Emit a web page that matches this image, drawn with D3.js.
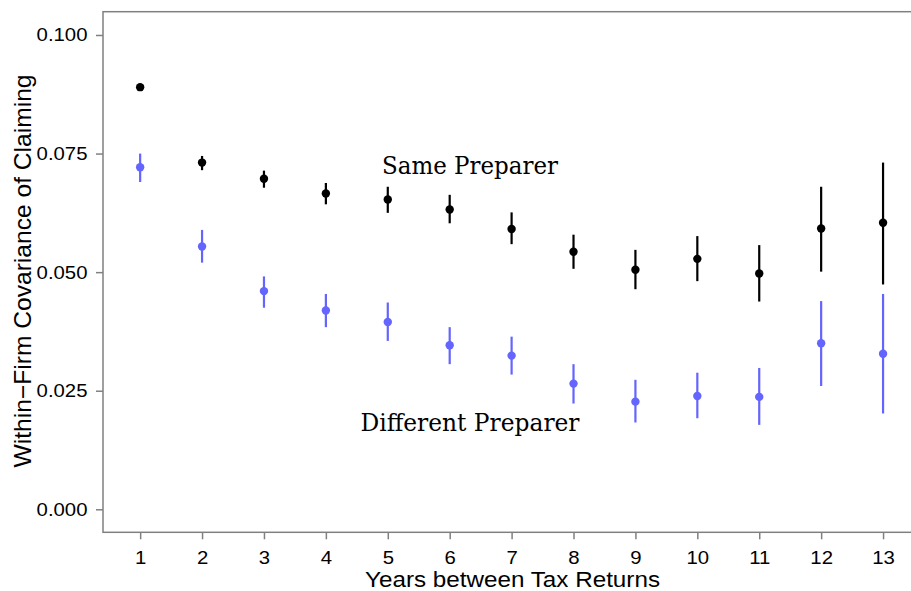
<!DOCTYPE html>
<html>
<head>
<meta charset="utf-8">
<script src="https://cdn.jsdelivr.net/npm/d3@7"></script>
<style>
  html, body { margin: 0; padding: 0; background: #fff; }
  svg { display: block; }
</style>
</head>
<body>
<svg id="chart" width="911" height="591"></svg>
<script>
// Years between the two tax returns
const years = [1, 2, 3, 4, 5, 6, 7, 8, 9, 10, 11, 12, 13];

// Same preparer: estimate and confidence interval
const sameEst = [0.0890, 0.0731, 0.0697, 0.0666, 0.0653, 0.0632, 0.0591, 0.0543, 0.0505, 0.0528, 0.0497, 0.0592, 0.0604];
const sameLo  = [0.0884, 0.0715, 0.0678, 0.0643, 0.0625, 0.0603, 0.0559, 0.0507, 0.0464, 0.0481, 0.0438, 0.0501, 0.0474];
const sameHi  = [0.0896, 0.0745, 0.0714, 0.0688, 0.0680, 0.0663, 0.0626, 0.0579, 0.0547, 0.0576, 0.0557, 0.0680, 0.0731];

// Different preparer: estimate and confidence interval
const diffEst = [0.0721, 0.0554, 0.0460, 0.0419, 0.0395, 0.0346, 0.0324, 0.0265, 0.0227, 0.0239, 0.0237, 0.0350, 0.0328];
const diffLo  = [0.0690, 0.0520, 0.0425, 0.0384, 0.0355, 0.0306, 0.0284, 0.0223, 0.0183, 0.0192, 0.0178, 0.0260, 0.0202];
const diffHi  = [0.0750, 0.0589, 0.0491, 0.0454, 0.0436, 0.0384, 0.0364, 0.0306, 0.0273, 0.0288, 0.0298, 0.0439, 0.0454];

const yTicks = [0, 0.025, 0.05, 0.075, 0.1];
const xTitle = "Years between Tax Returns";
const yTitle = "Within\u2212Firm Covariance of Claiming";
const sameLabel = "Same Preparer";
const diffLabel = "Different Preparer";

const svg = d3.select("#chart");
const plotLeft = 103, plotRight = 920.2, plotTop = 11.7, plotBottom = 532.3;

const x = d3.scaleLinear().domain([0.4, 13.6]).range([plotLeft, plotRight]);
const y = d3.scaleLinear().domain([-0.00485, 0.10491]).range([plotBottom, plotTop]);

const axisColor = "#808080";
const sansFont = "'Liberation Sans', Arial, Helvetica, sans-serif";

// Panel frame
svg.append("rect")
  .attr("x", plotLeft).attr("y", plotTop)
  .attr("width", plotRight - plotLeft).attr("height", plotBottom - plotTop)
  .attr("fill", "none").attr("stroke", axisColor).attr("stroke-width", 1.5);

// Y axis
const gy = svg.append("g")
  .attr("transform", `translate(${plotLeft},0)`)
  .call(d3.axisLeft(y).tickValues(yTicks).tickFormat(d3.format(".3f")).tickSize(7).tickPadding(8.5));
gy.select(".domain").remove();
gy.selectAll(".tick line").attr("stroke", axisColor).attr("stroke-width", 1.5);
gy.selectAll(".tick text")
  .attr("fill", "#000")
  .style("font-family", sansFont)
  .style("font-size", "18.5px");

// X axis
const gx = svg.append("g")
  .attr("transform", `translate(0,${plotBottom})`)
  .call(d3.axisBottom(x).tickValues(years).tickFormat(d3.format("d")).tickSize(7));
gx.select(".domain").remove();
gx.selectAll(".tick line").attr("stroke", axisColor).attr("stroke-width", 1.5);
gx.selectAll(".tick text")
  .attr("fill", "#000")
  .attr("y", 31.7).attr("dy", null)
  .style("font-family", sansFont)
  .style("font-size", "18.5px");

// Stretch tick labels slightly wider to suit the axis font
svg.selectAll(".tick text").each(function () {
  const w = this.getComputedTextLength();
  d3.select(this).attr("textLength", w * 1.1).attr("lengthAdjust", "spacingAndGlyphs");
});

// Axis titles
svg.append("text")
  .attr("x", 512.5).attr("y", 586.5)
  .attr("text-anchor", "middle")
  .attr("textLength", 295).attr("lengthAdjust", "spacingAndGlyphs")
  .style("font-family", sansFont).style("font-size", "21.5px")
  .text(xTitle);

svg.append("text")
  .attr("transform", "translate(31,271) rotate(-90)")
  .attr("text-anchor", "middle")
  .attr("textLength", 393).attr("lengthAdjust", "spacingAndGlyphs")
  .style("font-family", sansFont).style("font-size", "24px")
  .text(yTitle);

// Series drawing: error bars and points
function drawSeries(est, lo, hi, color) {
  const g = svg.append("g");
  g.selectAll("line")
    .data(years)
    .join("line")
    .attr("x1", (d) => x(d)).attr("x2", (d) => x(d))
    .attr("y1", (d, i) => y(lo[i])).attr("y2", (d, i) => y(hi[i]))
    .attr("stroke", color).attr("stroke-width", 2.2);
  g.selectAll("circle")
    .data(years)
    .join("circle")
    .attr("cx", (d) => x(d))
    .attr("cy", (d, i) => y(est[i]))
    .attr("r", 4.2)
    .attr("fill", color);
}

drawSeries(sameEst, sameLo, sameHi, "#000000");
drawSeries(diffEst, diffLo, diffHi, "#6464ff");

// Series labels
const serifFont = "'DejaVu Serif', 'Liberation Serif', serif";
svg.append("text")
  .attr("x", 470).attr("y", 174.3)
  .attr("text-anchor", "middle")
  .attr("textLength", 176).attr("lengthAdjust", "spacingAndGlyphs")
  .style("font-family", serifFont).style("font-size", "25px")
  .text(sameLabel);

svg.append("text")
  .attr("x", 470).attr("y", 430.7)
  .attr("text-anchor", "middle")
  .attr("textLength", 219).attr("lengthAdjust", "spacingAndGlyphs")
  .style("font-family", serifFont).style("font-size", "25px")
  .text(diffLabel);
</script>
</body>
</html>
